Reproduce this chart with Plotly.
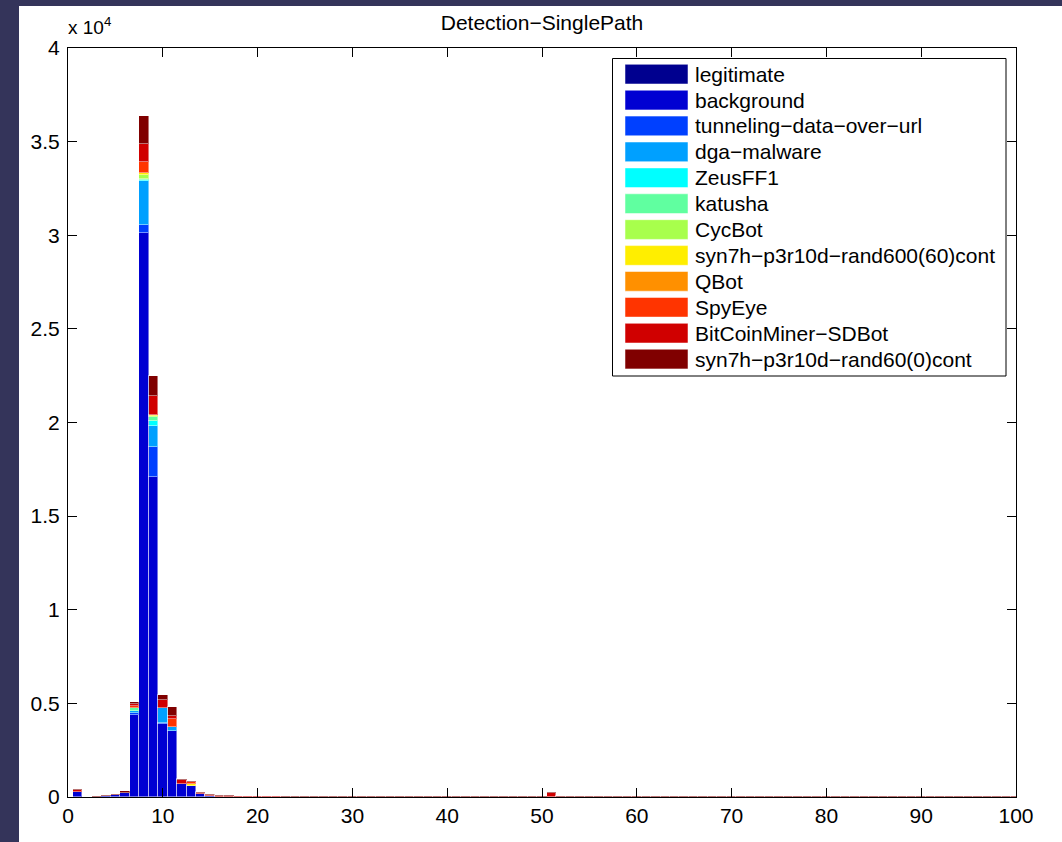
import plotly.graph_objects as go

# ---------------- data ----------------
bins = list(range(1, 101))

series_names = [
    "legitimate", "background", "tunneling−data−over−url", "dga−malware",
    "ZeusFF1", "katusha", "CycBot", "syn7h−p3r10d−rand600(60)cont",
    "QBot", "SpyEye", "BitCoinMiner−SDBot", "syn7h−p3r10d−rand60(0)cont",
]
series_colors = [
    "#00008F", "#0000D2", "#0040FF", "#00A0FF", "#00FFFF", "#60FFA0",
    "#A8FF4C", "#FFEE00", "#FF9000", "#FF3400", "#D00000", "#800000",
]

# bins 1..25
legitimate_head = [0] * 25
background_head = [290, 0, 20, 60, 90, 200, 4400, 30100, 17070, 3900, 3540, 690, 570,
                   160, 80, 20, 20, 10, 10, 10, 10, 10, 0, 0, 0]
tunneling_head = [0, 0, 0, 0, 0, 0, 60, 450, 1600, 60, 0, 0, 0,
                  0, 0, 0, 0, 0, 0, 0, 0, 0, 0, 0, 0]
dga_head = [0, 0, 0, 0, 0, 0, 150, 2350, 1170, 800, 210, 0, 0,
            0, 0, 0, 0, 0, 0, 0, 0, 0, 0, 0, 0]
zeus_head = [0, 0, 0, 0, 0, 0, 0, 50, 230, 0, 0, 0, 0,
             0, 0, 0, 0, 0, 0, 0, 0, 0, 0, 0, 0]
katusha_head = [0, 0, 0, 0, 0, 0, 160, 50, 200, 0, 0, 0, 0,
                0, 0, 0, 0, 0, 0, 0, 0, 0, 0, 0, 0]
cycbot_head = [0, 0, 0, 0, 0, 0, 0, 200, 80, 0, 0, 0, 0,
               0, 0, 0, 0, 0, 0, 0, 0, 0, 0, 0, 0]
syn600_head = [0, 0, 0, 0, 0, 0, 0, 100, 70, 0, 0, 0, 140,
               0, 0, 0, 0, 0, 0, 0, 0, 0, 0, 0, 0]
qbot_head = [0] * 25
spyeye_head = [0, 0, 0, 0, 0, 0, 100, 600, 0, 0, 390, 0, 70,
               0, 0, 0, 0, 0, 0, 0, 0, 0, 0, 0, 0]
bitcoin_head = [70, 0, 0, 0, 0, 0, 100, 1000, 1010, 400, 190, 220, 0,
                40, 50, 30, 20, 20, 20, 20, 20, 20, 20, 20, 20]
syn60_head = [60, 20, 30, 50, 60, 120, 80, 1470, 1060, 280, 480, 50, 60,
              50, 50, 60, 60, 50, 50, 40, 50, 50, 15, 15, 15]

# bins 26..100 (only the two red series are visible there)
bitcoin_tail = [20, 20, 20, 20, 20, 20, 20, 20, 20, 20, 20, 20, 20, 20, 20,
                20, 20, 20, 20, 20, 20, 20, 20, 20, 20, 230, 20, 20, 20, 20,
                20, 20, 20, 20, 20, 20, 20, 20, 20, 20, 20, 20, 20, 20, 20,
                20, 20, 20, 20, 20, 20, 20, 20, 20, 20, 20, 20, 20, 20, 20,
                20, 20, 20, 20, 20, 20, 20, 20, 20, 20, 20, 20, 20, 20, 20]
syn60_tail = [40, 15, 15, 15, 15, 15, 15, 15, 40, 15, 15, 15, 15, 15, 15,
              15, 15, 15, 15, 15, 15, 15, 15, 15, 15, 40, 15, 15, 15, 15,
              15, 15, 15, 15, 15, 15, 15, 15, 15, 15, 15, 15, 15, 15, 15,
              15, 15, 15, 15, 15, 15, 15, 15, 15, 15, 15, 15, 15, 15, 15,
              15, 15, 15, 15, 15, 15, 15, 15, 15, 15, 15, 15, 15, 15, 15]

y_tickvals = [0, 5000, 10000, 15000, 20000, 25000, 30000, 35000, 40000]
y_ticktext = ["0", "0.5", "1", "1.5", "2", "2.5", "3", "3.5", "4"]
x_tickvals = [0, 10, 20, 30, 40, 50, 60, 70, 80, 90, 100]

empty_tail = [0] * 75
series_values = [
    legitimate_head + empty_tail,
    background_head + empty_tail,
    tunneling_head + empty_tail,
    dga_head + empty_tail,
    zeus_head + empty_tail,
    katusha_head + empty_tail,
    cycbot_head + empty_tail,
    syn600_head + empty_tail,
    qbot_head + empty_tail,
    spyeye_head + empty_tail,
    bitcoin_head + bitcoin_tail,
    syn60_head + syn60_tail,
]

# ---------------- figure ----------------
W, H = 1062, 842
L, R, T, B = 68, 46, 48, 45
PW, PH = W - L - R, H - T - B
FONT = "Liberation Sans, Arial, Helvetica, sans-serif"


def px(x):
    return (x - L) / PW


def py(y):
    return (H - B - y) / PH


fig = go.Figure()
for name, color, vals in zip(series_names, series_colors, series_values):
    fig.add_trace(go.Bar(
        x=bins,
        y=[v if v else None for v in vals],
        name=name,
        marker=dict(color=color, line=dict(color="rgba(255,255,255,0.45)", width=1)),
        showlegend=False,
    ))

shapes = [
    # white page over dark frame
    dict(type="rect", xref="paper", yref="paper", layer="below",
         x0=px(19), x1=px(W + 5), y0=py(H + 5), y1=py(6),
         fillcolor="white", line=dict(width=0)),
    # legend box
    dict(type="rect", xref="paper", yref="paper", layer="above",
         x0=px(612.5), x1=px(1006), y0=py(376), y1=py(58.5),
         fillcolor="white", line=dict(color="black", width=1)),
]
annotations = [
    dict(text="x 10<sup>4</sup>", xref="paper", yref="paper", x=px(66), y=py(40),
         xanchor="left", yanchor="bottom", showarrow=False,
         font=dict(family=FONT, size=19, color="black")),
]

row0, row_h, sw_h = 64.3, 25.9, 19.7
for i, (name, color) in enumerate(zip(series_names, series_colors)):
    top = row0 + i * row_h
    shapes.append(dict(type="rect", xref="paper", yref="paper", layer="above",
                       x0=px(625), x1=px(688), y0=py(top + sw_h), y1=py(top),
                       fillcolor=color, line=dict(color="rgba(255,255,255,0.5)", width=1)))
    annotations.append(dict(text=name, xref="paper", yref="paper",
                            x=px(693), y=py(top + sw_h / 2), xanchor="left", yanchor="middle",
                            showarrow=False, font=dict(family=FONT, size=21, color="black")))

fig.update_layout(
    width=W, height=H,
    margin=dict(l=L, r=R, t=T, b=B, pad=0),
    paper_bgcolor="#34345A",
    plot_bgcolor="white",
    barmode="stack",
    bargap=0,
    title=dict(text="Detection−SinglePath", x=px(542), xref="paper", xanchor="center",
               y=1 - 23 / H, yref="container", yanchor="middle",
               font=dict(family=FONT, size=21, color="black")),
    font=dict(family=FONT, size=21, color="black"),
    shapes=shapes,
    annotations=annotations,
    xaxis=dict(range=[0, 100], tickvals=x_tickvals, ticks="inside", ticklen=9,
               tickcolor="black", showline=True, linecolor="black", linewidth=1,
               mirror="ticks", showgrid=False, zeroline=False,
               tickfont=dict(family=FONT, size=21, color="black")),
    yaxis=dict(range=[0, 40000], tickvals=y_tickvals, ticktext=y_ticktext,
               ticks="inside", ticklen=9, tickcolor="black", showline=True,
               linecolor="black", linewidth=1, mirror="ticks", showgrid=False,
               zeroline=False, ticklabelstandoff=3,
               tickfont=dict(family=FONT, size=21, color="black")),
)

fig.write_html(
    "out.html",
    config={"displayModeBar": False},
    post_script="document.body.style.margin='0';document.body.style.padding='0';",
)
